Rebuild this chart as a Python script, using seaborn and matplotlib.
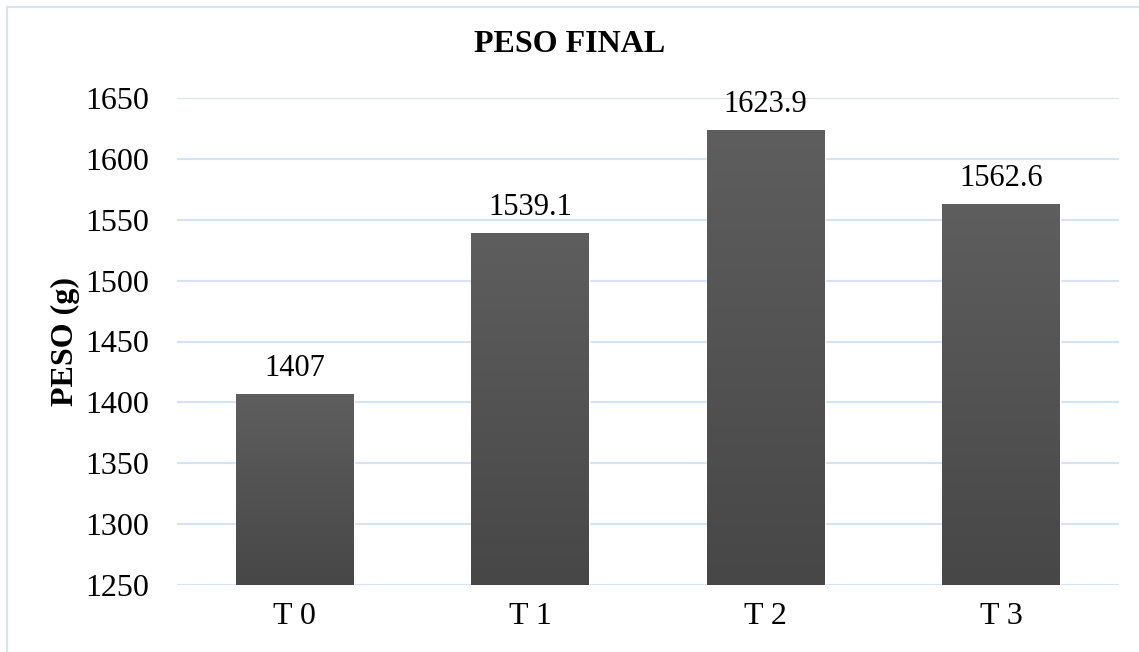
import numpy as np
import pandas as pd
import matplotlib
matplotlib.use("Agg")
import matplotlib.pyplot as plt
import seaborn as sns
from matplotlib.patches import Rectangle

categories = ["T 0", "T 1", "T 2", "T 3"]
values = [1407, 1539.1, 1623.9, 1562.6]
value_labels = ["1407", "1539.1", "1623.9", "1562.6"]
yticks = [1250, 1300, 1350, 1400, 1450, 1500, 1550, 1600, 1650]

sns.set_theme(style="white")
plt.rcParams["font.family"] = ["Liberation Serif", "DejaVu Serif"]
plt.rcParams["text.color"] = "black"

df = pd.DataFrame({"trat": categories, "peso": values})

fig = plt.figure(figsize=(11.39, 6.52), dpi=100)
ax = fig.add_axes([177 / 1139, 1 - 585 / 652, 942 / 1139, (585 - 98) / 652])

sns.barplot(data=df, x="trat", y="peso", color="#505050", width=0.5,
            ax=ax, zorder=3, saturation=1)

ax.set_ylim(1250, 1650)
ax.set_xlim(-0.5, 3.5)
ax.set_yticks(yticks)
ax.set_yticklabels([str(t) for t in yticks])
ax.yaxis.grid(True, color="#d6e3f3", linewidth=1.5, zorder=0)
ax.set_axisbelow(True)
for s in ax.spines.values():
    s.set_visible(False)
ax.tick_params(axis="both", length=0, labelsize=23, colors="black")
ax.tick_params(axis="y", pad=20)
ax.tick_params(axis="x", pad=12)
ax.set_xlabel("")
ax.set_ylabel("PESO (g)", fontsize=23, fontweight="bold", labelpad=4,
              color="black")

# vertical gradient fill on every bar, plus a faint shadow
grad = np.linspace(0, 1, 256).reshape(-1, 1)
cmap = matplotlib.colors.LinearSegmentedColormap.from_list("g", ["#474747", "#5e5e5e"])
for p in ax.patches:
    x0, y0 = p.get_x(), p.get_y()
    w, h = p.get_width(), p.get_height()
    sh = Rectangle((x0 + 0.004, y0 - 1.5), w, h, facecolor="#bbbbbb",
                   edgecolor="none", alpha=0.5, zorder=2)
    ax.add_patch(sh)
    im = ax.imshow(grad, extent=[x0, x0 + w, 1250, y0 + h], origin="lower",
                   cmap=cmap, aspect="auto", zorder=4)
    im.set_clip_path(p)

for i, (v, lab) in enumerate(zip(values, value_labels)):
    ax.annotate(lab, (i, v), xytext=(0, 8), textcoords="offset points",
                ha="center", va="bottom", fontsize=22, color="black", zorder=5)

fig.text(0.5, 1 - 45 / 652, "PESO FINAL", ha="center", va="center",
         fontsize=23, fontweight="bold", color="black")

# chart frame
frame = Rectangle((7 / 1139, -0.05), 1.2, 1 - 7 / 652 + 0.05,
                  transform=fig.transFigure, fill=False,
                  edgecolor="#d9e4f2", linewidth=1.5)
fig.patches.append(frame)

fig.savefig("out.png", dpi=100)
